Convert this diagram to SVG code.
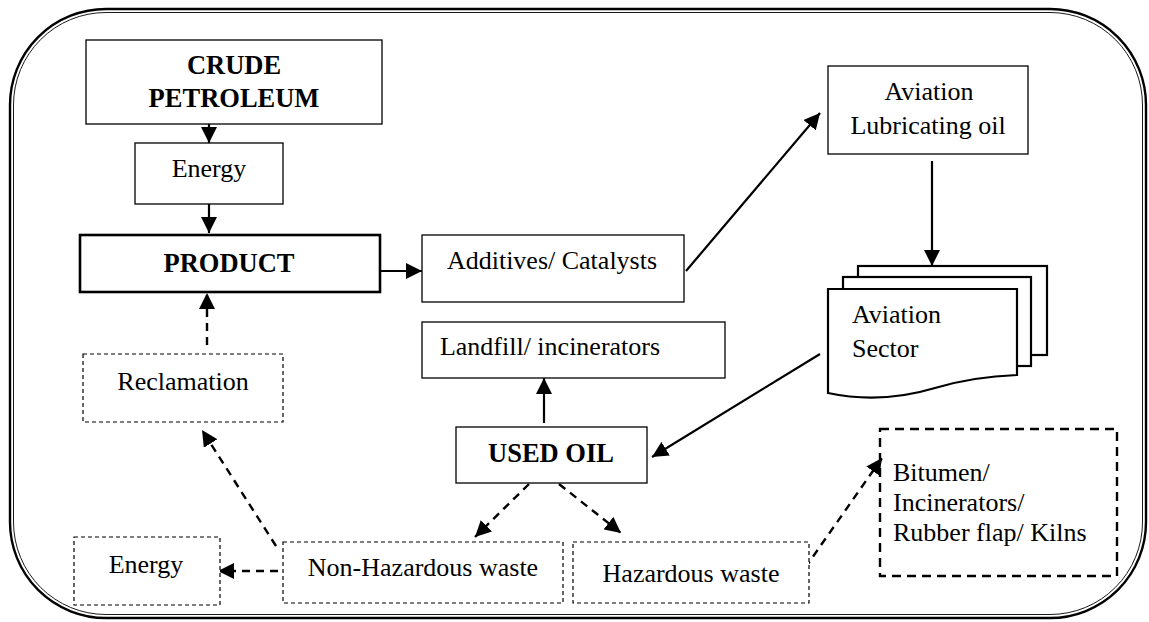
<svg xmlns="http://www.w3.org/2000/svg" width="1149" height="622" viewBox="0 0 1149 622">
  <style>
    .box { fill: #fff; stroke: #000; stroke-width: 1.3; }
    .bold-box { fill: #fff; stroke: #000; stroke-width: 2.6; }
    .dbox { fill: #fff; stroke: #000; stroke-width: 1.2; stroke-dasharray: 4 3; }
    .dbox-heavy { fill: none; stroke: #000; stroke-width: 2.4; stroke-dasharray: 9 6; }
    .doc { fill: #fff; stroke: #000; stroke-width: 2.2; }
    .t { font-family: "Liberation Serif", "Times New Roman", serif; font-size: 26px; fill: #000; }
    .b { font-family: "Liberation Serif", "Times New Roman", serif; font-size: 26.5px; font-weight: bold; fill: #000; }
    .mid { text-anchor: middle; }
    .solid { fill: none; stroke: #000; stroke-width: 2.2; marker-end: url(#head); }
    .dashed { fill: none; stroke: #000; stroke-width: 2.4; stroke-dasharray: 8 6; marker-end: url(#head); }
  </style>
  <defs>
    <marker id="head" markerUnits="userSpaceOnUse" markerWidth="17" markerHeight="16" refX="16" refY="8" orient="auto">
      <path d="M0,0 L16,8 L0,16 z" fill="#000" stroke="none"/>
    </marker>
  </defs>

  <rect width="1149" height="622" fill="#fff"/>

  <!-- double-line rounded frame -->
  <g id="frame">
    <rect x="10" y="9" width="1136" height="609" rx="96" ry="96" fill="none" stroke="#000" stroke-width="2.4"/>
    <rect x="13.5" y="12.5" width="1129" height="602" rx="92.5" ry="92.5" fill="none" stroke="#000" stroke-width="0.9"/>
  </g>

  <g id="connectors">
    <line class="solid" x1="209" y1="114" x2="209" y2="143"/>
    <line class="solid" x1="209" y1="204" x2="209" y2="233"/>
    <line class="solid" x1="380" y1="271" x2="422" y2="271"/>
    <line class="solid" x1="686" y1="271" x2="820" y2="113"/>
    <line class="solid" x1="932" y1="161" x2="932" y2="266"/>
    <line class="solid" x1="820" y1="354" x2="652" y2="457"/>
    <line class="solid" x1="544" y1="423" x2="544" y2="378"/>
    <line class="dashed" x1="529" y1="484" x2="475" y2="537"/>
    <line class="dashed" x1="559" y1="484" x2="621" y2="533"/>
    <line class="dashed" x1="805" y1="568" x2="882" y2="458"/>
    <line class="dashed" x1="276" y1="546" x2="202" y2="430"/>
    <line class="dashed" x1="278" y1="571" x2="218" y2="571"/>
    <line class="dashed" x1="207" y1="345" x2="207" y2="293"/>
  </g>

  <g id="crude-petroleum">
    <rect class="box" x="86" y="40" width="296" height="84"/>
    <text class="b mid" x="234" y="74">CRUDE</text>
    <text class="b mid" x="234" y="107">PETROLEUM</text>
  </g>

  <g id="energy-top">
    <rect class="box" x="135" y="143" width="148" height="61"/>
    <text class="t mid" x="209" y="177">Energy</text>
  </g>

  <g id="product">
    <rect class="bold-box" x="80" y="235" width="300" height="57"/>
    <text class="b mid" x="229" y="272">PRODUCT</text>
  </g>

  <g id="additives">
    <rect class="box" x="422" y="235" width="262" height="67"/>
    <text class="t mid" x="552" y="269">Additives/ Catalysts</text>
  </g>

  <g id="aviation-lubricating-oil">
    <rect class="box" x="828" y="66" width="200" height="88"/>
    <text class="t mid" x="929" y="100">Aviation</text>
    <text class="t mid" x="928" y="134">Lubricating oil</text>
  </g>

  <g id="aviation-sector">
    <rect class="doc" x="858" y="266" width="189" height="89"/>
    <rect class="doc" x="843" y="277" width="188" height="89"/>
    <path class="doc" d="M828,289 L1017,289 L1017,375 C990,376 965,379 935,388 C905,397 870,402 828,393 Z"/>
    <text class="t" x="852" y="323">Aviation</text>
    <text class="t" x="852" y="357">Sector</text>
  </g>

  <g id="landfill">
    <rect class="box" x="422" y="322" width="303" height="56"/>
    <text class="t mid" x="550" y="355">Landfill/ incinerators</text>
  </g>

  <g id="used-oil">
    <rect class="box" x="456" y="427" width="191" height="56"/>
    <text class="b mid" x="551" y="462">USED OIL</text>
  </g>

  <g id="reclamation">
    <rect class="dbox" x="83" y="354" width="200" height="68"/>
    <text class="t mid" x="183" y="390">Reclamation</text>
  </g>

  <g id="energy-bottom">
    <rect class="dbox" x="74" y="537" width="146" height="68"/>
    <text class="t mid" x="146" y="573">Energy</text>
  </g>

  <g id="non-hazardous-waste">
    <rect class="dbox" x="283" y="542" width="280" height="61"/>
    <text class="t mid" x="423" y="576">Non-Hazardous waste</text>
  </g>

  <g id="hazardous-waste">
    <rect class="dbox" x="573" y="542" width="236" height="61"/>
    <text class="t mid" x="691" y="582">Hazardous waste</text>
  </g>

  <g id="bitumen">
    <rect class="dbox-heavy" x="880" y="429" width="237" height="147"/>
    <text class="t" x="893" y="481">Bitumen/</text>
    <text class="t" x="893" y="511">Incinerators/</text>
    <text class="t" x="893" y="541">Rubber flap/ Kilns</text>
  </g>
</svg>
